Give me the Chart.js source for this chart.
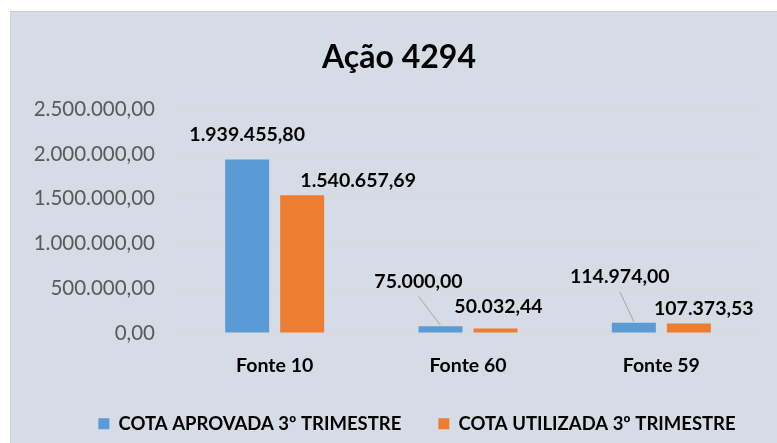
<!DOCTYPE html>
<html>
<head>
<meta charset="utf-8">
<script src="https://cdn.jsdelivr.net/npm/chart.js@4.4.0/dist/chart.umd.min.js"></script>
<style>
  html, body { margin: 0; padding: 0; background: #fff; }
  #wrap { width: 777px; height: 443px; }
</style>
</head>
<body>
<div id="wrap"><canvas id="myChart" width="777" height="443"></canvas></div>
<script>
var categories = ["Fonte 10", "Fonte 60", "Fonte 59"];
var seriesNames = ["COTA APROVADA 3º TRIMESTRE", "COTA UTILIZADA 3º TRIMESTRE"];
var cotaAprovada = [1939455.80, 75000.00, 114974.00];
var cotaUtilizada = [1540657.69, 50032.44, 107373.53];
var yMax = 2500000;
var yStep = 500000;

var FONT = "Lato, 'Open Sans', sans-serif";

// formato brasileiro: 1.234.567,89
function fmt(v) {
  var parts = v.toFixed(2).split(".");
  parts[0] = parts[0].replace(/\B(?=(\d{3})+(?!\d))/g, ".");
  return parts[0] + "," + parts[1];
}

// deslocamento dos rótulos (dx, dy a partir do topo da barra) e linha de chamada
var labelShift = [
  [{ dx: 0, dy: -25 }, { dx: -22, dy: -45, leader: true }, { dx: -14, dy: -46, leader: true }],
  [{ dx: 56, dy: -14 }, { dx: 3, dy: -22 }, { dx: 15, dy: -15 }]
];

var panelPlugin = {
  id: "panel",
  beforeDraw: function (chart) {
    var c = chart.ctx;
    c.save();
    c.fillStyle = "#ffffff";
    c.fillRect(0, 0, chart.width, chart.height);
    c.fillStyle = "#D6DCE5";
    c.fillRect(10, 11, chart.width - 10, chart.height - 11);
    c.strokeStyle = "#D0D0D0";
    c.lineWidth = 1;
    c.beginPath();
    c.moveTo(10.5, chart.height);
    c.lineTo(10.5, 11.5);
    c.lineTo(chart.width, 11.5);
    c.stroke();
    c.restore();
  }
};

var shiftPlugin = {
  id: "shiftBoxes",
  afterLayout: function (chart) {
    chart.titleBlock.left += 15;
    chart.titleBlock.right += 15;
    chart.legend.left += 33;
    chart.legend.right += 33;
  }
};

var valueLabels = {
  id: "valueLabels",
  afterDatasetsDraw: function (chart) {
    var c = chart.ctx;
    c.save();
    c.font = "bold 19.5px " + FONT;
    c.fillStyle = "#000";
    c.textAlign = "center";
    c.textBaseline = "middle";
    chart.data.datasets.forEach(function (ds, di) {
      var meta = chart.getDatasetMeta(di);
      meta.data.forEach(function (bar, i) {
        var s = labelShift[di][i];
        var lx = bar.x + s.dx;
        var ly = bar.y + s.dy;
        if (s.leader) {
          c.strokeStyle = "#A6A6A6";
          c.lineWidth = 1;
          c.beginPath();
          c.moveTo(lx, ly + 15);
          c.lineTo(bar.x, bar.y - 1);
          c.stroke();
        }
        c.fillText(fmt(ds.data[i]), lx, ly);
      });
    });
    c.restore();
  }
};

var ctx = document.getElementById("myChart").getContext("2d");
var chart = new Chart(ctx, {
  type: "bar",
  data: {
    labels: categories,
    datasets: [{
      label: seriesNames[0],
      data: cotaAprovada,
      backgroundColor: "#5B9BD5",
      categoryPercentage: 0.569,
      barPercentage: 0.8
    }, {
      label: seriesNames[1],
      data: cotaUtilizada,
      backgroundColor: "#ED7D31",
      categoryPercentage: 0.569,
      barPercentage: 0.8
    }]
  },
  options: {
    responsive: false,
    animation: false,
    layout: { padding: { left: 10, right: 19, top: 0, bottom: 0 } },
    plugins: {
      title: {
        display: true,
        text: "Ação 4294",
        color: "#000",
        font: { family: FONT, size: 32, weight: "bold", lineHeight: 1.2 },
        padding: { top: 38, bottom: 33 }
      },
      legend: {
        position: "bottom",
        labels: {
          color: "#000",
          boxWidth: 11,
          boxHeight: 11,
          padding: 37,
          font: { family: FONT, size: 18.5, weight: "bold" }
        }
      },
      tooltip: { enabled: false }
    },
    scales: {
      x: {
        grid: { display: false, drawTicks: false },
        border: { display: false },
        ticks: { color: "#000", padding: 21, font: { family: FONT, size: 19.5, weight: "bold" } },
        afterFit: function (scale) { scale.height = 44.5; }
      },
      y: {
        min: 0,
        max: yMax,
        grid: { color: "#D9D9D9", lineWidth: 1, drawTicks: false },
        border: { display: false },
        ticks: {
          stepSize: yStep,
          color: "#595959",
          padding: 23,
          font: { family: FONT, size: 20.5 },
          callback: function (v) { return fmt(v); }
        },
        afterFit: function (scale) { scale.width = 168; }
      }
    }
  },
  plugins: [panelPlugin, shiftPlugin, valueLabels]
});
</script>
</body>
</html>
